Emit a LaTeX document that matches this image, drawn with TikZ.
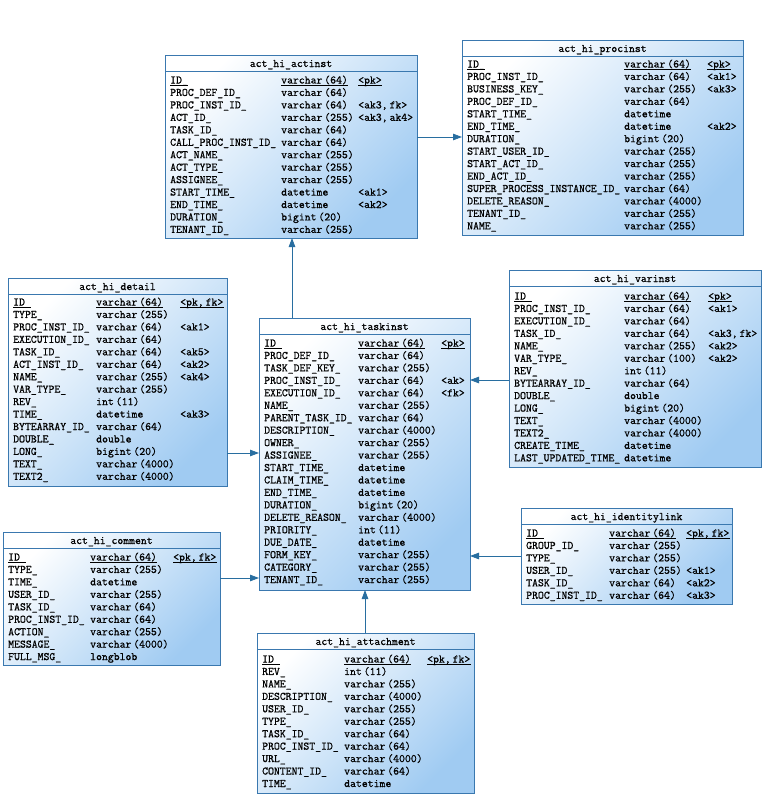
\documentclass[tikz,border=0pt]{standalone}
\usepackage{fontspec}
\newfontfamily\tabfont{Latin Modern Mono}[FakeBold=0.8]
\usetikzlibrary{arrows.meta,calc}
\definecolor{bordc}{RGB}{58,120,175}
\definecolor{connc}{RGB}{40,110,160}
\definecolor{tblue}{RGB}{160,203,242}
\tikzset{
  tbl/.style={draw=bordc, line width=0.8pt, shading=axis, top color=white, bottom color=tblue, shading angle=45, inner sep=0pt, outer sep=0pt, anchor=north west},
  sepline/.style={draw=bordc, line width=0.8pt},
  uline/.style={draw=black, line width=0.6pt},
  cell/.style={anchor=base west, inner sep=0pt, font={\tabfont\fontsize{11.43}{13}\selectfont}, text=black},
  ttl/.style={anchor=base, inner sep=0pt, font={\tabfont\fontsize{11.43}{13}\selectfont}, text=black},
  conn/.style={draw=connc, line width=0.8pt, -{Triangle[length=9pt,width=6.5pt]}},
}
% #1 id, #2 x, #3 y, #4 width, #5 height, #6 title
\newcommand\erdbox[6]{%
  \node[tbl, minimum width=#4pt, minimum height=#5pt] (#1) at (#2,#3) {};
  \draw[sepline] ([yshift=-16pt]#1.north west) -- ([yshift=-16pt]#1.north east);
  \node[ttl] (#1-title) at ($(#1.north)+(0,12)$) {#6};
}
% #1 id, #2 x name, #3 x type, #4 x key, #5 y first row, #6 list
\newcommand\erdrows[6]{%
  \foreach \n/\t/\k [count=\i from 0] in {#6} {
    \pgfmathsetmacro\yy{#5+\i*12.45+3.5}
    \node[cell] (#1-n\i) at (#2,\yy) {\n};
    \node[cell] (#1-t\i) at (#3,\yy) {\t};
    \node[cell] (#1-k\i) at (#4,\yy) {\k};
  }%
  \foreach \c in {n,t,k} {
    \draw[uline] ([yshift=-1.4pt]#1-\c0.base west) -- ([yshift=-1.4pt]#1-\c0.base east);
  }%
}
\begin{document}
\begin{tikzpicture}[x=1pt,y=-1pt]
\useasboundingbox (0,0) rectangle (765,806);
\fill[white] (0,0) rectangle (765,806);

% act_hi_actinst
\erdbox{actinst}{165}{55}{252}{183}{act\_hi\_actinst}
\erdrows{actinst}{170}{281}{358}{80}{
ID\_/varchar\,(64)/{<pk>},
PROC\_DEF\_ID\_/varchar\,(64)/{},
PROC\_INST\_ID\_/varchar\,(64)/{<ak3,\,fk>},
ACT\_ID\_/varchar\,(255)/{<ak3,\,ak4>},
TASK\_ID\_/varchar\,(64)/{},
CALL\_PROC\_INST\_ID\_/varchar\,(64)/{},
ACT\_NAME\_/varchar\,(255)/{},
ACT\_TYPE\_/varchar\,(255)/{},
ASSIGNEE\_/varchar\,(255)/{},
START\_TIME\_/datetime/{<ak1>},
END\_TIME\_/datetime/{<ak2>},
DURATION\_/bigint\,(20)/{},
TENANT\_ID\_/varchar\,(255)/{}}

% act_hi_procinst
\erdbox{procinst}{462}{40}{281}{195}{act\_hi\_procinst}
\erdrows{procinst}{467}{624}{707}{64}{
ID\_/varchar\,(64)/{<pk>},
PROC\_INST\_ID\_/varchar\,(64)/{<ak1>},
BUSINESS\_KEY\_/varchar\,(255)/{<ak3>},
PROC\_DEF\_ID\_/varchar\,(64)/{},
START\_TIME\_/datetime/{},
END\_TIME\_/datetime/{<ak2>},
DURATION\_/bigint\,(20)/{},
START\_USER\_ID\_/varchar\,(255)/{},
START\_ACT\_ID\_/varchar\,(255)/{},
END\_ACT\_ID\_/varchar\,(255)/{},
SUPER\_PROCESS\_INSTANCE\_ID\_/varchar\,(64)/{},
DELETE\_REASON\_/varchar\,(4000)/{},
TENANT\_ID\_/varchar\,(255)/{},
NAME\_/varchar\,(255)/{}}

% act_hi_detail
\erdbox{detail}{8}{278}{219}{208}{act\_hi\_detail}
\erdrows{detail}{13}{96}{180}{302}{
ID\_/varchar\,(64)/{<pk,\,fk>},
TYPE\_/varchar\,(255)/{},
PROC\_INST\_ID\_/varchar\,(64)/{<ak1>},
EXECUTION\_ID\_/varchar\,(64)/{},
TASK\_ID\_/varchar\,(64)/{<ak5>},
ACT\_INST\_ID\_/varchar\,(64)/{<ak2>},
NAME\_/varchar\,(255)/{<ak4>},
VAR\_TYPE\_/varchar\,(255)/{},
REV\_/int\,(11)/{},
TIME\_/datetime/{<ak3>},
BYTEARRAY\_ID\_/varchar\,(64)/{},
DOUBLE\_/double/{},
LONG\_/bigint\,(20)/{},
TEXT\_/varchar\,(4000)/{},
TEXT2\_/varchar\,(4000)/{}}

% act_hi_taskinst
\erdbox{taskinst}{259}{318}{211}{272}{act\_hi\_taskinst}
\erdrows{taskinst}{264}{358}{441}{343}{
ID\_/varchar\,(64)/{<pk>},
PROC\_DEF\_ID\_/varchar\,(64)/{},
TASK\_DEF\_KEY\_/varchar\,(255)/{},
PROC\_INST\_ID\_/varchar\,(64)/{<ak>},
EXECUTION\_ID\_/varchar\,(64)/{<fk>},
NAME\_/varchar\,(255)/{},
PARENT\_TASK\_ID\_/varchar\,(64)/{},
DESCRIPTION\_/varchar\,(4000)/{},
OWNER\_/varchar\,(255)/{},
ASSIGNEE\_/varchar\,(255)/{},
START\_TIME\_/datetime/{},
CLAIM\_TIME\_/datetime/{},
END\_TIME\_/datetime/{},
DURATION\_/bigint\,(20)/{},
DELETE\_REASON\_/varchar\,(4000)/{},
PRIORITY\_/int\,(11)/{},
DUE\_DATE\_/datetime/{},
FORM\_KEY\_/varchar\,(255)/{},
CATEGORY\_/varchar\,(255)/{},
TENANT\_ID\_/varchar\,(255)/{}}

% act_hi_varinst
\erdbox{varinst}{509}{270}{252}{197}{act\_hi\_varinst}
\erdrows{varinst}{514}{624}{708}{296}{
ID\_/varchar\,(64)/{<pk>},
PROC\_INST\_ID\_/varchar\,(64)/{<ak1>},
EXECUTION\_ID\_/varchar\,(64)/{},
TASK\_ID\_/varchar\,(64)/{<ak3,\,fk>},
NAME\_/varchar\,(255)/{<ak2>},
VAR\_TYPE\_/varchar\,(100)/{<ak2>},
REV\_/int\,(11)/{},
BYTEARRAY\_ID\_/varchar\,(64)/{},
DOUBLE\_/double/{},
LONG\_/bigint\,(20)/{},
TEXT\_/varchar\,(4000)/{},
TEXT2\_/varchar\,(4000)/{},
CREATE\_TIME\_/datetime/{},
LAST\_UPDATED\_TIME\_/datetime/{}}

% act_hi_comment
\erdbox{comment}{3}{532}{217}{133}{act\_hi\_comment}
\erdrows{comment}{8}{90}{173}{557}{
ID\_/varchar\,(64)/{<pk,\,fk>},
TYPE\_/varchar\,(255)/{},
TIME\_/datetime/{},
USER\_ID\_/varchar\,(255)/{},
TASK\_ID\_/varchar\,(64)/{},
PROC\_INST\_ID\_/varchar\,(64)/{},
ACTION\_/varchar\,(255)/{},
MESSAGE\_/varchar\,(4000)/{},
FULL\_MSG\_/longblob/{}}

% act_hi_identitylink
\erdbox{identitylink}{521}{508}{211}{96}{act\_hi\_identitylink}
\erdrows{identitylink}{526}{609}{686}{533}{
ID\_/varchar\,(64)/{<pk,\,fk>},
GROUP\_ID\_/varchar\,(255)/{},
TYPE\_/varchar\,(255)/{},
USER\_ID\_/varchar\,(255)/{<ak1>},
TASK\_ID\_/varchar\,(64)/{<ak2>},
PROC\_INST\_ID\_/varchar\,(64)/{<ak3>}}

% act_hi_attachment
\erdbox{attachment}{257}{633}{217}{160}{act\_hi\_attachment}
\erdrows{attachment}{262}{344}{427}{659}{
ID\_/varchar\,(64)/{<pk,\,fk>},
REV\_/int\,(11)/{},
NAME\_/varchar\,(255)/{},
DESCRIPTION\_/varchar\,(4000)/{},
USER\_ID\_/varchar\,(255)/{},
TYPE\_/varchar\,(255)/{},
TASK\_ID\_/varchar\,(64)/{},
PROC\_INST\_ID\_/varchar\,(64)/{},
URL\_/varchar\,(4000)/{},
CONTENT\_ID\_/varchar\,(64)/{},
TIME\_/datetime/{}}

% connectors
\coordinate (h1) at (0,137);
\coordinate (v1) at (292,0);
\coordinate (h2) at (0,453);
\coordinate (h3) at (0,380);
\coordinate (h4) at (0,578);
\coordinate (h5) at (0,556);
\coordinate (v2) at (365,0);
\draw[conn] (actinst.east |- h1) -- (procinst.west |- h1);
\draw[conn] (taskinst.north -| v1) -- (actinst.south -| v1);
\draw[conn] (detail.east |- h2) -- (taskinst.west |- h2);
\draw[conn] (varinst.west |- h3) -- (taskinst.east |- h3);
\draw[conn] (comment.east |- h4) -- (taskinst.west |- h4);
\draw[conn] (identitylink.west |- h5) -- (taskinst.east |- h5);
\draw[conn] (attachment.north -| v2) -- (taskinst.south -| v2);
\end{tikzpicture}
\end{document}
